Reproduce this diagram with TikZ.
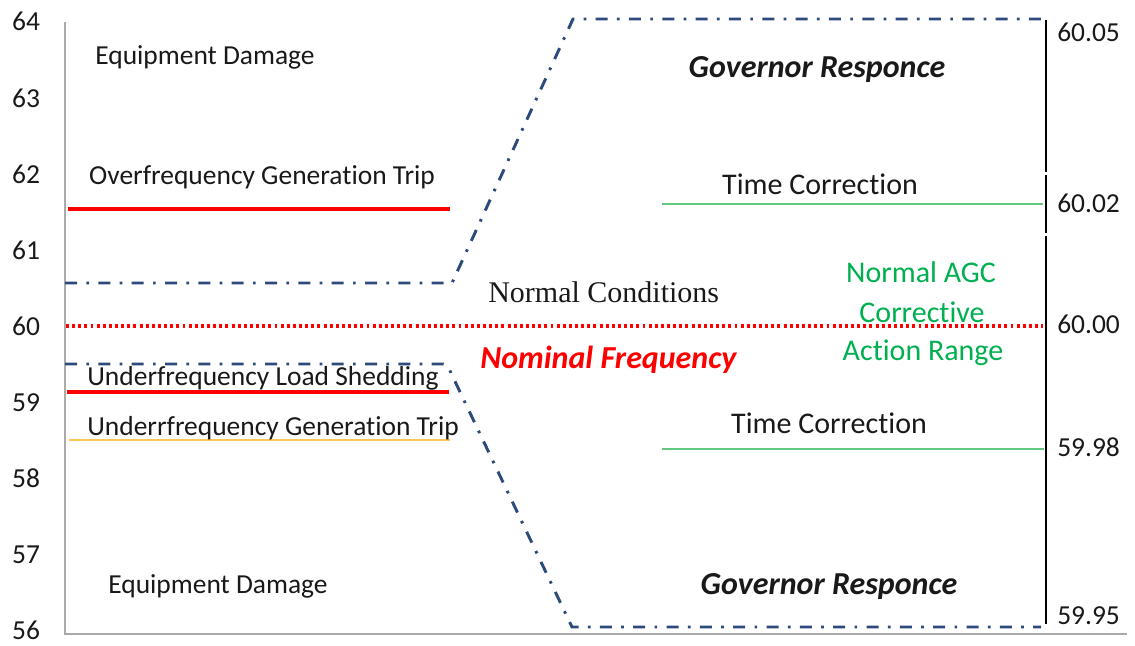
\documentclass[tikz,border=0pt]{standalone}
\usepackage{fontspec}
\setmainfont{Carlito}[Ligatures=NoCommon]
\newfontfamily\timesf{Liberation Serif}
\definecolor{navy}{RGB}{44,74,122}
\definecolor{axisgray}{RGB}{170,170,170}
\definecolor{ylw}{RGB}{250,200,80}
\definecolor{glinecol}{RGB}{100,200,130}
\definecolor{gtext}{RGB}{0,176,80}
\definecolor{ink}{RGB}{25,25,25}
\begin{document}
\begin{tikzpicture}[x=0.75pt,y=-0.75pt,
  txt/.style={inner sep=0pt,text=ink,font=\fontsize{20.6}{24}\selectfont},
  big/.style={inner sep=0pt,text=ink,font=\fontsize{22.5}{26}\selectfont},
  gov/.style={inner sep=0pt,text=ink,font=\fontsize{24}{28}\selectfont\bfseries\itshape},
  dashdot/.style={navy,line width=2.2pt,dash pattern=on 9pt off 7pt on 2pt off 7pt},
  axisline/.style={axisgray,line width=1.5pt},
  redline/.style={red,line width=2.5pt},
  gstroke/.style={glinecol,line width=1.3pt}]
\useasboundingbox (0,0) rectangle (1135,646);
% axes
\coordinate (axtop) at (65,22);
\coordinate (axorig) at (65,634);
\coordinate (axright) at (1127,634);
\draw[axisline] (axtop) -- (axorig) -- (axright);
% left tick labels
\foreach \v [count=\i from 0] in {64,63,62,61,60,59,58,57,56}{
  \node[txt,anchor=base] (t\v) at (26,{31+76.1*\i}) {\v};
}
% right black scale line
\coordinate (r1) at (1046,20);
\coordinate (r2) at (1046,172);
\coordinate (r3) at (1046,175);
\coordinate (r4) at (1046,233);
\coordinate (r5) at (1046,236);
\coordinate (r6) at (1046,624);
\draw[black,line width=1.5pt] (r1) -- (r2) (r3) -- (r4) (r5) -- (r6);
\node[txt,anchor=base west] (v1) at (1057,41) {60.05};
\node[txt,anchor=base west] (v2) at (1057,212) {60.02};
\node[txt,anchor=base west] (v3) at (1057,333) {60.00};
\node[txt,anchor=base west] (v4) at (1057,456) {59.98};
\node[txt,anchor=base west] (v5) at (1057,624) {59.95};
% nominal frequency dotted line
\coordinate (n1) at (66,326);
\coordinate (n2) at (1043,326);
\draw[red,line width=2.5pt,dash pattern=on 2.2pt off 2.4pt] (n1) -- (n2);
% red and yellow threshold lines
\coordinate (of1) at (68,209);
\coordinate (of2) at (450,209);
\draw[redline] (of1) -- (of2);
\coordinate (uf1) at (67,392);
\coordinate (uf2) at (449,392);
\draw[redline] (uf1) -- (uf2);
\coordinate (ug1) at (69,440);
\coordinate (ug2) at (450,440);
\draw[ylw,line width=1.5pt] (ug1) -- (ug2);
% green time correction lines
\coordinate (g1) at (662,204);
\coordinate (g2) at (1043,204);
\coordinate (g3) at (662,449);
\coordinate (g4) at (1044,449);
\draw[gstroke] (g1) -- (g2);
\draw[gstroke] (g3) -- (g4);
% dash-dot envelopes
\coordinate (u1) at (65,283);
\coordinate (u2) at (452,283);
\coordinate (u3) at (573,19);
\coordinate (u4) at (1041,19);
\draw[dashdot] (u1) -- (u2) -- (u3) -- (u4);
\coordinate (l1) at (65,364);
\coordinate (l2) at (443,364);
\coordinate (l3) at (572,627);
\coordinate (l4) at (1041,627);
\draw[dashdot] (l1) -- (l2) to[out=0,in=115] (451,373) -- (l3) -- (l4);
% labels
\node[txt,anchor=base] (ed1) at (205,64) {Equipment Damage};
\node[txt,anchor=base] (ogt) at (262,184) {Overfrequency Generation Trip};
\node[txt,anchor=base] (uls) at (263,385) {Underfrequency Load Shedding};
\node[txt,anchor=base] (ugt) at (273,435) {Underrfrequency Generation Trip};
\node[txt,anchor=base] (ed2) at (218,593) {Equipment Damage};
\node[inner sep=0pt,text=ink,font=\timesf\fontsize{22.5}{26}\selectfont,anchor=base west] (nc) at (488,302) {Normal Conditions};
\node[gov,text=red,anchor=base west] (nf) at (480,368) {Nominal Frequency};
\node[gov,anchor=base] (gr1) at (817,77) {Governor Responce};
\node[gov,anchor=base] (gr2) at (829,594) {Governor Responce};
\node[big,anchor=base] (tc1) at (820,194) {Time Correction};
\node[big,anchor=base] (tc2) at (829,433) {Time Correction};
\node[big,text=gtext,anchor=base] (agc1) at (921,282) {Normal AGC};
\node[big,text=gtext,anchor=base] (agc2) at (922,322) {Corrective};
\node[big,text=gtext,anchor=base] (agc3) at (923,360) {Action Range};
\end{tikzpicture}
\end{document}
